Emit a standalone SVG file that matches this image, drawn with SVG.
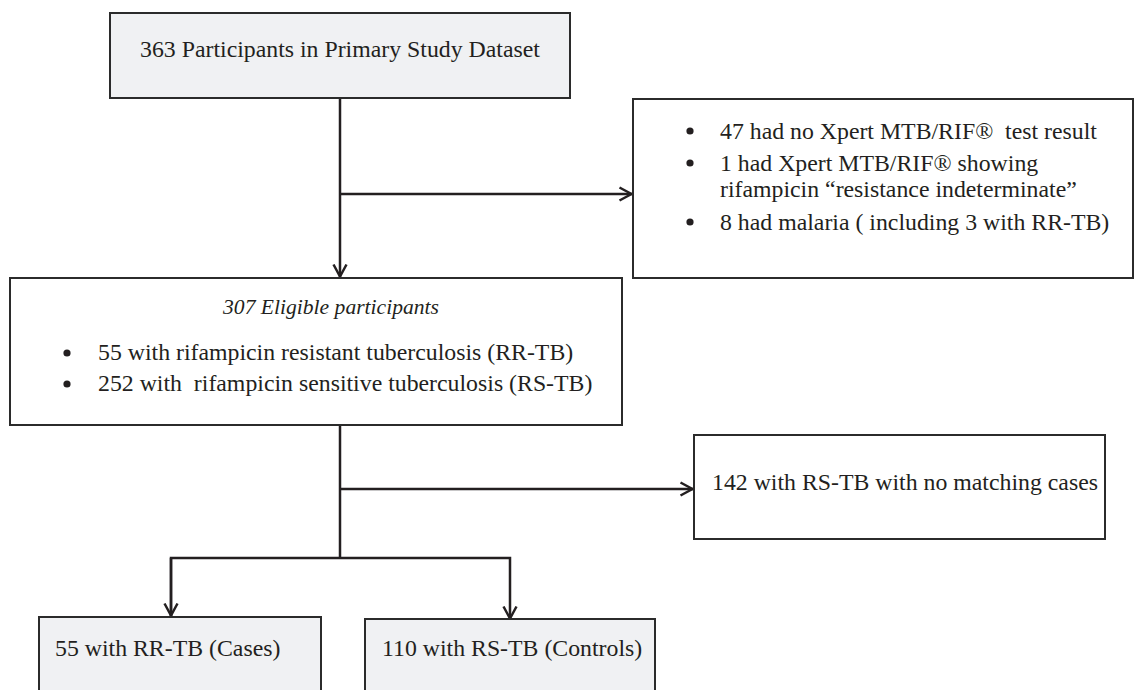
<svg xmlns="http://www.w3.org/2000/svg" width="1134" height="690" viewBox="0 0 1134 690">
<style>
.box{stroke:#2b2b2b;stroke-width:2;}
.gray{fill:#f0f1f3;}
.white{fill:#ffffff;}
.t{font-family:"Liberation Serif","Times New Roman",serif;font-size:23.8px;fill:#231f20;}
.it{font-style:italic;font-size:21.6px;}
.dot{fill:#231f20;}
.line{fill:none;stroke:#231f20;stroke-width:2.5;}
</style>
<defs>
<marker id="arr" viewBox="0 0 16 16" refX="14.5" refY="8" markerWidth="16" markerHeight="16" markerUnits="userSpaceOnUse" orient="auto">
<path d="M2,1.5 L14,8 L2,14.5" fill="none" stroke="#231f20" stroke-width="2.5"/>
</marker>
</defs>
<rect width="1134" height="690" fill="#ffffff"/>
<g id="connectors">
<line class="line" x1="340" y1="98" x2="340" y2="277" marker-end="url(#arr)"/>
<line class="line" x1="340" y1="194" x2="632" y2="194" marker-end="url(#arr)"/>
<line class="line" x1="340" y1="425" x2="340" y2="558"/>
<line class="line" x1="340" y1="489" x2="693" y2="489" marker-end="url(#arr)"/>
<polyline class="line" points="171,617 171,558 510,558 510,619" marker-end="url(#arr)"/>
<line class="line" x1="171" y1="558" x2="171" y2="616" marker-end="url(#arr)"/>
</g>
<g id="node-primary">
<rect class="box gray" x="110" y="13" width="460" height="85"/>
<text class="t" x="340" y="57" text-anchor="middle">363 Participants in Primary Study Dataset</text>
</g>
<g id="node-excluded">
<rect class="box white" x="633" y="99" width="500" height="179"/>
<circle class="dot" cx="690" cy="131" r="3.6"/>
<text class="t" x="720" y="139">47 had no Xpert MTB/RIF®&#160; test result</text>
<circle class="dot" cx="690" cy="163" r="3.6"/>
<text class="t" x="720" y="171">1 had Xpert MTB/RIF® showing</text>
<text class="t" x="720" y="197">rifampicin “resistance indeterminate”</text>
<circle class="dot" cx="690" cy="222" r="3.6"/>
<text class="t" x="720" y="230">8 had malaria ( including 3 with RR-TB)</text>
</g>
<g id="node-eligible">
<rect class="box white" x="10" y="278" width="612" height="147"/>
<text class="t it" x="331" y="314" text-anchor="middle">307 Eligible participants</text>
<circle class="dot" cx="67" cy="353" r="3.6"/>
<text class="t" x="98" y="360">55 with rifampicin resistant tuberculosis (RR-TB)</text>
<circle class="dot" cx="67" cy="384" r="3.6"/>
<text class="t" x="98" y="391">252 with&#160; rifampicin sensitive tuberculosis (RS-TB)</text>
</g>
<g id="node-nomatch">
<rect class="box white" x="694" y="435" width="411" height="104"/>
<text class="t" x="712" y="490">142 with RS-TB with no matching cases</text>
</g>
<g id="node-cases">
<rect class="box gray" x="39" y="617" width="282" height="90"/>
<text class="t" x="55" y="656">55 with RR-TB (Cases)</text>
</g>
<g id="node-controls">
<rect class="box gray" x="365" y="619" width="290" height="90"/>
<text class="t" x="382" y="656">110 with RS-TB (Controls)</text>
</g>
</svg>
